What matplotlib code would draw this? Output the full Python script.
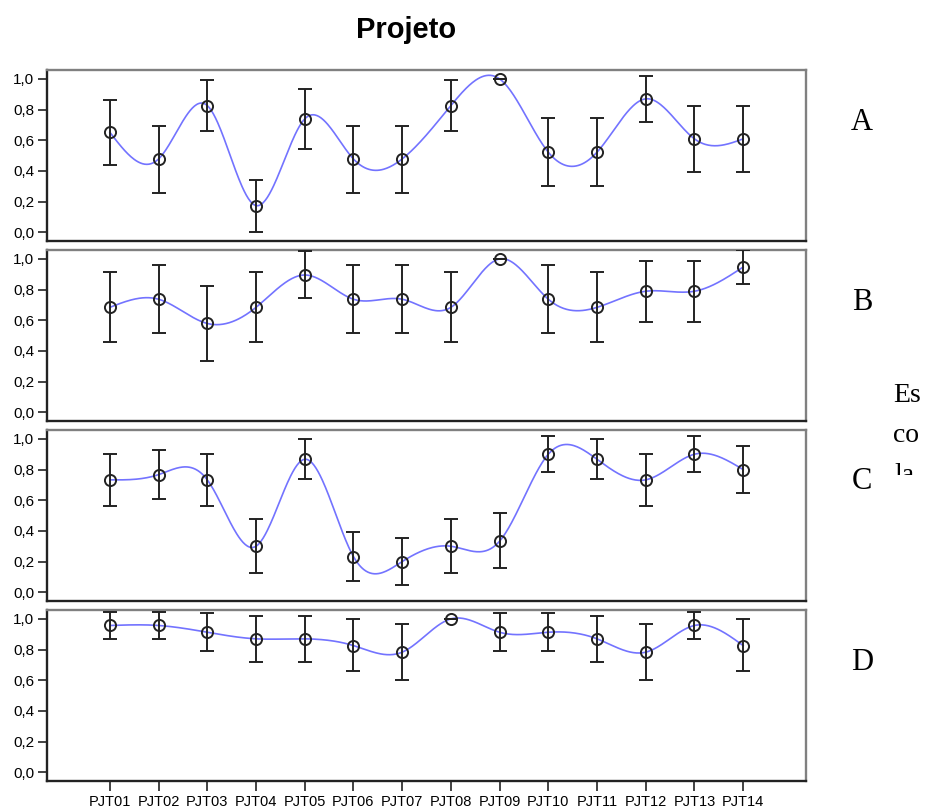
import numpy as np
import matplotlib
matplotlib.use('Agg')
import matplotlib.pyplot as plt
from matplotlib.transforms import Bbox, TransformedBbox

# Categorias (eixo x) e rótulos do eixo y
categorias = ['PJT01', 'PJT02', 'PJT03', 'PJT04', 'PJT05', 'PJT06', 'PJT07',
              'PJT08', 'PJT09', 'PJT10', 'PJT11', 'PJT12', 'PJT13', 'PJT14']
yticks = [0.0, 0.2, 0.4, 0.6, 0.8, 1.0]
ytick_labels = ['0,0', '0,2', '0,4', '0,6', '0,8', '1,0']
paineis = ['A', 'B', 'C', 'D']

# Médias e intervalos
A_media = [0.652, 0.478, 0.826, 0.174, 0.739, 0.478, 0.478, 0.826, 1.0, 0.522, 0.522, 0.870, 0.609, 0.609]
A_inf = [0.440, 0.258, 0.661, 0.004, 0.543, 0.258, 0.258, 0.661, 1.0, 0.302, 0.302, 0.721, 0.393, 0.393]
A_sup = [0.863, 0.696, 0.994, 0.341, 0.933, 0.696, 0.696, 0.994, 1.0, 0.743, 0.743, 1.020, 0.824, 0.824]

B_media = [0.684, 0.737, 0.579, 0.684, 0.895, 0.737, 0.737, 0.684, 1.0, 0.737, 0.684, 0.789, 0.789, 0.947]
B_inf = [0.457, 0.517, 0.335, 0.457, 0.744, 0.517, 0.517, 0.457, 1.0, 0.517, 0.457, 0.589, 0.589, 0.839]
B_sup = [0.913, 0.961, 0.824, 0.913, 1.052, 0.961, 0.961, 0.913, 1.0, 0.961, 0.913, 0.989, 0.989, 1.058]

C_media = [0.733, 0.767, 0.733, 0.300, 0.867, 0.233, 0.200, 0.300, 0.333, 0.900, 0.867, 0.733, 0.900, 0.800]
C_inf = [0.565, 0.607, 0.565, 0.126, 0.739, 0.072, 0.050, 0.126, 0.157, 0.787, 0.737, 0.565, 0.787, 0.650]
C_sup = [0.902, 0.930, 0.902, 0.476, 0.998, 0.395, 0.352, 0.476, 0.515, 1.020, 1.000, 0.902, 1.020, 0.956]

D_media = [0.957, 0.957, 0.913, 0.870, 0.870, 0.826, 0.783, 1.0, 0.913, 0.913, 0.870, 0.783, 0.957, 0.826]
D_inf = [0.867, 0.867, 0.791, 0.721, 0.721, 0.663, 0.602, 1.0, 0.791, 0.791, 0.721, 0.602, 0.867, 0.663]
D_sup = [1.048, 1.048, 1.037, 1.021, 1.021, 0.998, 0.967, 1.0, 1.037, 1.037, 1.021, 0.967, 1.048, 0.998]

dados = [(A_media, A_inf, A_sup), (B_media, B_inf, B_sup),
         (C_media, C_inf, C_sup), (D_media, D_inf, D_sup)]


# Spline cúbica natural para a linha de interpolação
def spline_natural(x, y, n=600):
    x = np.asarray(x, float)
    y = np.asarray(y, float)
    k = len(x)
    h = np.diff(x)
    A = np.zeros((k, k))
    r = np.zeros(k)
    A[0, 0] = A[-1, -1] = 1
    for i in range(1, k - 1):
        A[i, i - 1] = h[i - 1]
        A[i, i] = 2 * (h[i - 1] + h[i])
        A[i, i + 1] = h[i]
        r[i] = 6 * ((y[i + 1] - y[i]) / h[i] - (y[i] - y[i - 1]) / h[i - 1])
    M = np.linalg.solve(A, r)
    xs = np.linspace(x[0], x[-1], n)
    idx = np.clip(np.searchsorted(x, xs) - 1, 0, k - 2)
    x0, x1 = x[idx], x[idx + 1]
    hi = x1 - x0
    t0, t1 = x1 - xs, xs - x0
    ys = (M[idx] * t0 ** 3 + M[idx + 1] * t1 ** 3) / (6 * hi) \
        + (y[idx] / hi - M[idx] * hi / 6) * t0 \
        + (y[idx + 1] / hi - M[idx + 1] * hi / 6) * t1
    return xs, ys


W, H = 928, 809
fig = plt.figure(figsize=(W / 100, H / 100), dpi=100)
plt.rcParams['font.family'] = ['Liberation Sans', 'DejaVu Sans']

x = np.arange(1, len(categorias) + 1)
topos = [70, 250, 430, 610]
altura = 171
esq, dir_ = 47, 806

for p, (nome, (media, inf, sup)) in enumerate(zip(paineis, dados)):
    topo = topos[p]
    ax = fig.add_axes([esq / W, 1 - (topo + altura) / H, (dir_ - esq) / W, altura / H])
    media = np.array(media)
    err = [media - np.array(inf), np.array(sup) - media]

    xs, ys = spline_natural(x, media)
    ax.plot(xs, ys, color='#7373ff', lw=1.2, zorder=2)
    ax.errorbar(x, media, yerr=err, fmt='none', ecolor='#222222', elinewidth=1.4,
                capsize=4.7, capthick=1.4, zorder=3)
    ax.plot(x, media, 'o', ms=8, mfc='none', mec='#222222', mew=1.4, zorder=4)

    ax.set_xlim(-0.29, 15.29)
    ax.set_ylim(-0.057, 1.058)
    ax.set_yticks(yticks)
    ax.set_yticklabels(ytick_labels, fontsize=11)
    ax.tick_params(axis='y', length=6.5, width=1.2, pad=2.5, color='#222222')
    if p == 3:
        ax.set_xticks(x)
        ax.set_xticklabels(categorias, fontsize=10.5)
        ax.tick_params(axis='x', length=7, width=1.2, pad=3, color='#222222')
    else:
        ax.set_xticks([])

    for lado in ['left', 'bottom']:
        ax.spines[lado].set_color('#222222')
        ax.spines[lado].set_linewidth(1.7)
    for lado in ['top', 'right']:
        ax.spines[lado].set_color('#808080')
        ax.spines[lado].set_linewidth(1.7)

    # rótulo do painel à direita
    fig.text(862 / W, 1 - (topo + 52) / H, nome, family=['Liberation Serif', 'DejaVu Serif'],
             fontsize=22, ha='center', va='center')

fig.text(406.5 / W, 1 - 38 / H, 'Projeto', fontsize=21, fontweight='bold',
         ha='center', va='baseline')

# texto lateral cortado ("Escala")
serif = ['Liberation Serif', 'DejaVu Serif']
fig.text(893 / W, 1 - 402 / H, 'Es', family=serif, fontsize=20, ha='left', va='baseline')
fig.text(893 / W, 1 - 442 / H, 'co', family=serif, fontsize=20, ha='left', va='baseline')
t = fig.text(894 / W, 1 - 482 / H, 'la', family=serif, fontsize=20, ha='left', va='baseline')
t.set_clip_box(TransformedBbox(Bbox([[880 / W, 1 - 475 / H], [1.0, 1 - 455 / H]]), fig.transFigure))
t.set_clip_on(True)

fig.savefig('out.png', dpi=100)
